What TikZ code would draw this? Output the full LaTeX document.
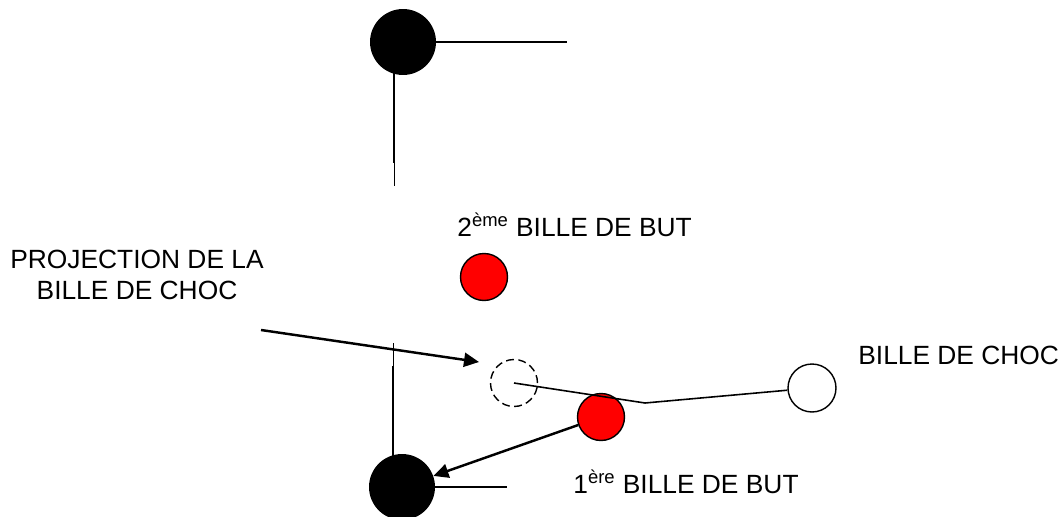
\documentclass[tikz,border=0pt]{standalone}
\usepackage{fontspec}
\setmainfont{Liberation Sans}
\usetikzlibrary{arrows.meta}
\tikzset{
  noire/.style   = {circle, fill=black, minimum size=1.32cm, inner sep=0pt},
  rouge/.style   = {circle, draw, fill=red, line width=0.8pt, minimum size=0.94cm, inner sep=0pt},
  blanche/.style = {circle, draw, fill=white, line width=0.8pt, minimum size=0.96cm, inner sep=0pt},
  fantome/.style = {circle, draw, dash pattern=on 4.5pt off 2.5pt, line width=0.8pt,
                    minimum size=0.94cm, inner sep=0pt},
  etiq/.style    = {font=\fontsize{15}{17.6}\selectfont, inner sep=0pt},
  trait/.style   = {line width=0.9pt},
  fin/.style     = {line width=0.5pt},
  arrow/.style   = {line width=1.4pt, -{Triangle[length=0.3cm, width=0.28cm]}},
}
\begin{document}
\begin{tikzpicture}[x=0.02cm, y=-0.02cm]
    \useasboundingbox (0,0) rectangle (1062,517);

    %% coordinates of the free ends
    \coordinate (hautdroite) at (567, 42);
    \coordinate (hautmilieu) at (394,163);
    \coordinate (hautfin)    at (394,186);
    \coordinate (basdebut)   at (393,343);
    \coordinate (basmilieu)  at (393,366);
    \coordinate (basdroite)  at (507,487);
    \coordinate (coude)      at (645,403);
    \coordinate (projdebut)  at (261,330);
    \coordinate (projfin)    at (479,362);

    %% rails
    \draw[trait] (403,42) -- (hautdroite);
    \draw[trait] (hautfin |- 0,42) -- (hautmilieu);
    \draw[fin]   (hautmilieu) -- (hautfin);
    \draw[fin]   (basdebut) -- (basmilieu);
    \draw[trait] (basmilieu) -- (basdebut |- 0,487);
    \draw[trait] (402,487) -- (basdroite);

    %% billes
    \node[noire]   (noireHaut) at (403, 42) {};
    \node[noire]   (noireBas)  at (402,487) {};
    \node[rouge]   (but2)      at (484,277) {};
    \node[rouge]   (but1)      at (601,417) {};
    \node[fantome] (proj)      at (514,383) {};
    \node[blanche] (choc)      at (812,388) {};

    %% labels
    \node[etiq, anchor=base west] (lbut2) at (457,236) {2\textsuperscript{ème} BILLE DE BUT};
    \node[etiq, anchor=base west] (lbut1) at (573,493) {1\textsuperscript{ère} BILLE DE BUT};
    \node[etiq, anchor=base west] (lchoc) at (858,364) {BILLE DE CHOC};
    \node[etiq, align=center, anchor=north] (lproj) at (137,250) {PROJECTION DE LA\\BILLE DE CHOC};

    %% trajectoires
    \draw[trait] (proj.center) -- (coude) -- (choc);
    \draw[arrow] (projdebut) -- (projfin);
    \draw[arrow] (but1) -- (noireBas);

\end{tikzpicture}
\end{document}
